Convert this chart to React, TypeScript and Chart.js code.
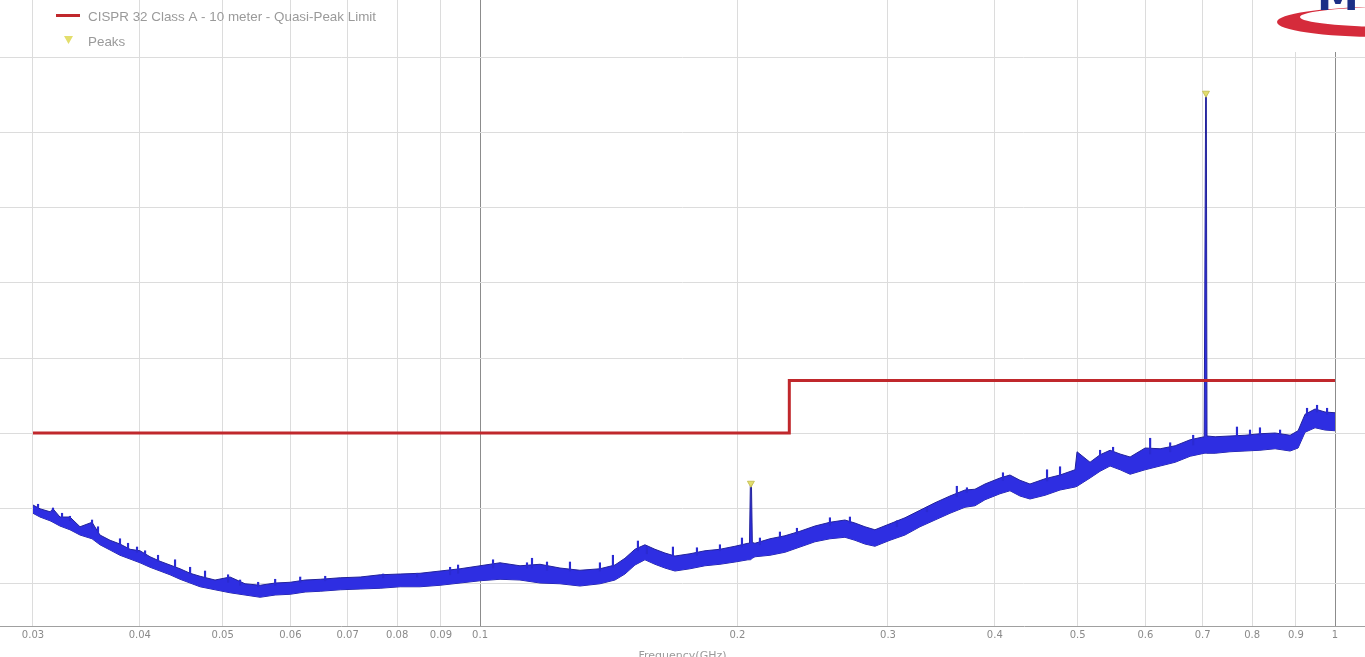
import { useEffect, useRef } from "react";
import { Chart, registerables } from "chart.js";

Chart.register(...registerables);

// ---- Data (frequency in GHz, level in dBµV/m) ----
const traceFreq = [
  0.0300, 0.03057, 0.03141, 0.03166, 0.03226, 0.03314, 0.03405, 0.03517, 0.03593, 0.03692,
  0.03792, 0.03896, 0.04002, 0.04112, 0.04224, 0.04339, 0.04458, 0.04580, 0.04705, 0.04898,
  0.05101, 0.05311, 0.05531, 0.05759, 0.05997, 0.06244, 0.06502, 0.06862, 0.07241, 0.07641,
  0.08064, 0.08509, 0.08980, 0.09476, 0.10000, 0.10553, 0.11136, 0.11752, 0.12402, 0.13087,
  0.13811, 0.14380, 0.14773, 0.15176, 0.15590, 0.16016, 0.16453, 0.16903, 0.17600, 0.18325,
  0.19081, 0.19867, 0.20575, 0.2066, 0.2071, 0.2077, 0.2082, 0.20967, 0.21831, 0.22731,
  0.23668, 0.24644, 0.25660, 0.26717, 0.27446, 0.28195, 0.28964, 0.30162, 0.31405, 0.32700,
  0.34048, 0.35451, 0.36913, 0.37920, 0.38956, 0.40562, 0.41669, 0.42806, 0.43974, 0.45796,
  0.47684, 0.49650, 0.49918, 0.51696, 0.53112, 0.54563, 0.56056, 0.57589, 0.59966, 0.62442,
  0.65020, 0.67700, 0.70300, 0.7045, 0.7058, 0.7071, 0.7084, 0.72409, 0.75357, 0.78469,
  0.81699, 0.85094, 0.88601, 0.90527, 0.92247, 0.94762, 0.97341, 1.0000,
];

const traceTop = [
  30.4, 29.9, 29.5, 29.9, 28.8, 28.8, 27.5, 28.1, 26.4, 25.7,
  25.2, 24.5, 24.3, 23.5, 22.9, 22.4, 21.9, 21.3, 20.9, 20.4,
  20.8, 19.9, 19.7, 20.0, 20.1, 20.4, 20.5, 20.7, 20.8, 21.1,
  21.2, 21.3, 21.6, 21.9, 22.3, 22.7, 22.3, 22.5, 22.0, 21.7,
  21.9, 22.4, 23.3, 24.5, 25.1, 24.5, 24.0, 23.6, 23.9, 24.3,
  24.5, 24.9, 25.3, 25.3, 33.3, 33.3, 25.4, 25.3, 25.9, 26.3,
  26.9, 27.6, 28.1, 28.4, 28.0, 27.5, 27.1, 27.9, 28.7, 29.7,
  30.7, 31.6, 32.4, 32.5, 33.2, 34.0, 34.4, 33.7, 33.2, 33.9,
  34.4, 35.1, 37.5, 36.1, 37.1, 37.7, 37.2, 36.8, 38.0, 37.9,
  38.3, 39.1, 39.5, 39.5, 85.3, 85.3, 39.6, 39.5, 39.6, 39.7,
  39.9, 40.0, 39.7, 40.3, 42.5, 43.2, 42.8, 42.7,
];

const traceBottom = [
  29.3, 28.8, 28.3, 28.1, 27.6, 27.1, 26.4, 25.9, 25.1, 24.4,
  23.7, 23.2, 22.7, 22.1, 21.6, 21.1, 20.5, 20.0, 19.5, 19.1,
  18.7, 18.4, 18.1, 18.4, 18.5, 18.8, 18.9, 19.1, 19.2, 19.3,
  19.5, 19.5, 19.7, 20.0, 20.3, 20.5, 20.4, 20.0, 19.9, 19.6,
  19.9, 20.4, 21.2, 22.4, 23.1, 22.5, 22.0, 21.6, 21.9, 22.3,
  22.5, 22.8, 23.1, 23.1, 23.1, 23.2, 23.3, 23.5, 23.7, 24.1,
  24.8, 25.5, 25.9, 26.1, 25.7, 25.2, 24.9, 25.7, 26.4, 27.5,
  28.4, 29.3, 30.1, 30.3, 31.1, 31.9, 32.3, 31.6, 31.2, 31.7,
  32.4, 32.8, 32.9, 34.0, 34.9, 35.6, 35.1, 34.5, 35.1, 35.6,
  36.1, 36.9, 37.3, 37.3, 37.3, 37.3, 37.3, 37.3, 37.5, 37.6,
  37.7, 37.9, 37.6, 38.0, 40.1, 40.7, 40.4, 40.3,
];

// noise spikes rising above the trace band: frequency, base level, tip level
const spikeFreq = [
  0.03041, 0.03166, 0.03244, 0.03314, 0.03517, 0.03574, 0.03792, 0.03875, 0.03970, 0.04057,
  0.04201, 0.04398, 0.04580, 0.04768, 0.05073, 0.05240, 0.05501, 0.05759, 0.06161, 0.06590,
  0.07703, 0.08441, 0.09225, 0.09425, 0.10356, 0.11348, 0.11502, 0.11976, 0.12740, 0.13811,
  0.14303, 0.15299, 0.15675, 0.16812, 0.17935, 0.19081, 0.20246, 0.21251, 0.22427, 0.23478,
  0.25660, 0.27079, 0.30736, 0.33322, 0.36115, 0.37112, 0.40891, 0.46043, 0.47684, 0.53112,
  0.55005, 0.60780, 0.64149, 0.68248, 0.76791, 0.79533, 0.81699, 0.86246, 0.92741, 0.95275,
  0.97878,
];
const spikeBase = [
  30.0, 29.5, 28.7, 28.3, 27.3, 26.7, 25.1, 24.5, 24.1, 23.6,
  22.9, 22.1, 21.3, 20.8, 20.1, 19.7, 19.5, 19.7, 20.1, 20.3,
  20.7, 20.8, 21.1, 21.3, 22.0, 22.0, 22.0, 21.7, 21.6, 21.6,
  22.1, 24.3, 23.9, 23.6, 23.7, 24.3, 24.8, 25.1, 26.0, 26.5,
  27.7, 28.0, 27.5, 29.5, 31.5, 32.1, 33.7, 33.6, 34.3, 37.1,
  37.5, 37.2, 37.5, 38.4, 39.6, 39.6, 39.7, 39.9, 42.3, 42.8,
  42.5,
];
const spikeTip = [
  30.5, 30.0, 29.3, 28.9, 28.4, 27.5, 25.9, 25.3, 24.8, 24.3,
  23.7, 23.1, 22.1, 21.6, 21.1, 20.4, 20.1, 20.5, 20.8, 20.9,
  21.2, 21.3, 22.1, 22.4, 23.1, 22.7, 23.3, 22.8, 22.8, 22.7,
  23.7, 25.6, 24.9, 24.8, 24.7, 25.1, 26.0, 26.0, 26.8, 27.3,
  28.7, 28.8, 28.3, 30.1, 32.9, 32.7, 34.7, 35.1, 35.5, 37.7,
  38.1, 39.3, 38.7, 39.7, 40.8, 40.4, 40.7, 40.4, 43.3, 43.7,
  43.3,
];

const limitFreq = [0.03, 0.23, 0.23, 1.0];
const limitLevel = [40, 40, 47, 47];

const peakFreq = [0.2074, 0.7064];
const peakLevel = [33.3, 85.3];

const xTickValues = [0.03, 0.04, 0.05, 0.06, 0.07, 0.08, 0.09, 0.1, 0.2, 0.3, 0.4, 0.5, 0.6, 0.7, 0.8, 0.9, 1];
const xDarkLines = [0.1, 1];
const yGridValues = [20, 30, 40, 50, 60, 70, 80, 90];

const xMin = 0.027449;
const xMax = 1.0841;
const yMin = 14.27;
const yMax = 97.73;

const legendLabels = ["CISPR 32 Class A - 10 meter - Quasi-Peak Limit", "Peaks"];
const axisTitle = "Frequency(GHz)";

const LIMIT_COLOR = "#c0282c";
const TRACE_FILL = "#2e2ee2";
const TRACE_EDGE = "#22229a";
const SPIKE_COLOR = "#2a2ad2";
const PEAK_COLOR = "#e3de6c";

const legendPlugin = {
  id: "insideLegend",
  afterDraw(chart: any) {
    const ctx = chart.ctx as CanvasRenderingContext2D;
    ctx.save();
    ctx.strokeStyle = LIMIT_COLOR;
    ctx.lineWidth = 3;
    ctx.beginPath();
    ctx.moveTo(56, 15.5);
    ctx.lineTo(80, 15.5);
    ctx.stroke();
    ctx.fillStyle = PEAK_COLOR;
    ctx.beginPath();
    ctx.moveTo(64, 36);
    ctx.lineTo(73, 36);
    ctx.lineTo(68.5, 44);
    ctx.closePath();
    ctx.fill();
    ctx.fillStyle = "#9a9a9a";
    ctx.font = '13.4px "Liberation Sans"';
    ctx.textBaseline = "alphabetic";
    ctx.textAlign = "left";
    ctx.fillText(legendLabels[0], 88, 20.5);
    ctx.fillText(legendLabels[1], 88, 46);
    ctx.restore();
  },
};

const logoPlugin = {
  id: "logoMark",
  afterDraw(chart: any) {
    const ctx = chart.ctx as CanvasRenderingContext2D;
    ctx.save();
    ctx.fillStyle = "#ffffff";
    ctx.fillRect(1270, 0, 95, 52);
    ctx.fillStyle = "#d52b3b";
    ctx.beginPath();
    ctx.moveTo(1380 + 103, 22);
    ctx.ellipse(1380, 22, 103, 15, 0, 0, Math.PI * 2);
    ctx.moveTo(1395 + 95, 17);
    ctx.ellipse(1395, 17, 95, 10, 0, 0, Math.PI * 2);
    ctx.fill("evenodd");
    ctx.fillStyle = "#1c2f86";
    ctx.font = 'bold 42px "DejaVu Sans"';
    ctx.textBaseline = "alphabetic";
    ctx.fillText("M", 1317, 10);
    ctx.restore();
  },
};

export default function App() {
  const canvasRef = useRef<HTMLCanvasElement | null>(null);

  useEffect(() => {
    if (!canvasRef.current) return;
    const chart = new Chart(canvasRef.current, {
      type: "line",
      data: {
        datasets: [
          {
            label: legendLabels[1],
            data: peakFreq.map((f, i) => ({ x: f, y: peakLevel[i] })),
            showLine: false,
            pointStyle: "triangle",
            rotation: 180,
            pointRadius: 4,
            pointBackgroundColor: PEAK_COLOR,
            pointBorderColor: "#c8c25a",
            pointBorderWidth: 1,
          },
          {
            label: legendLabels[0],
            data: limitFreq.map((f, i) => ({ x: f, y: limitLevel[i] })),
            borderColor: LIMIT_COLOR,
            borderWidth: 3,
            pointRadius: 0,
            fill: false,
            tension: 0,
          },
          {
            type: "bar",
            label: "Noise spikes",
            data: spikeFreq.map((f, i) => ({ x: f, y: [spikeBase[i], spikeTip[i]] })),
            backgroundColor: SPIKE_COLOR,
            borderWidth: 0,
            barThickness: 1.5,
            grouped: false,
          },
          {
            label: "Trace max",
            data: traceFreq.map((f, i) => ({ x: f, y: traceTop[i] })),
            borderColor: TRACE_EDGE,
            borderWidth: 1,
            pointRadius: 0,
            backgroundColor: TRACE_FILL,
            fill: "+1",
            tension: 0,
          },
          {
            label: "Trace min",
            data: traceFreq.map((f, i) => ({ x: f, y: traceBottom[i] })),
            borderColor: TRACE_EDGE,
            borderWidth: 1,
            pointRadius: 0,
            fill: false,
            tension: 0,
          },
        ],
      },
      options: {
        responsive: false,
        animation: false,
        events: [],
        layout: { padding: 0, autoPadding: false },
        plugins: {
          legend: { display: false },
          tooltip: { enabled: false },
        },
        scales: {
          x: {
            type: "logarithmic",
            min: xMin,
            max: xMax,
            offset: false,
            afterBuildTicks: (s: any) => {
              s.ticks = xTickValues.map((v) => ({ value: v }));
            },
            afterFit: (s: any) => {
              s.height = 44;
            },
            ticks: {
              autoSkip: false,
              maxRotation: 0,
              minRotation: 0,
              padding: 3,
              color: "#8a8a8a",
              font: { family: "DejaVu Sans", size: 10 },
              callback: (v: any) => String(v),
            },
            grid: {
              drawTicks: false,
              offset: false,
              lineWidth: 1,
              color: (c: any) =>
                c.tick && xDarkLines.includes(c.tick.value) ? "#8c8c8c" : "#dcdcdc",
            },
            border: { display: true, color: "#a0a0a0" },
            title: {
              display: true,
              text: axisTitle,
              color: "#9a9a9a",
              font: { family: "DejaVu Sans", size: 11 },
              padding: { top: 0, bottom: 7 },
            },
          },
          y: {
            type: "linear",
            min: yMin,
            max: yMax,
            afterBuildTicks: (s: any) => {
              s.ticks = yGridValues.map((v) => ({ value: v }));
            },
            afterFit: (s: any) => {
              s.width = 0;
            },
            ticks: { display: false },
            grid: { color: "#dcdcdc", drawTicks: false },
            border: { display: false },
          },
        },
      } as any,
      plugins: [legendPlugin, logoPlugin],
    });
    return () => chart.destroy();
  }, []);

  return (
    <div
      style={{
        position: "fixed",
        left: 0,
        top: 0,
        width: 1365,
        height: 657,
        overflow: "hidden",
        background: "#ffffff",
      }}
    >
      <canvas ref={canvasRef} width={1365} height={670} style={{ display: "block" }} />
    </div>
  );
}
